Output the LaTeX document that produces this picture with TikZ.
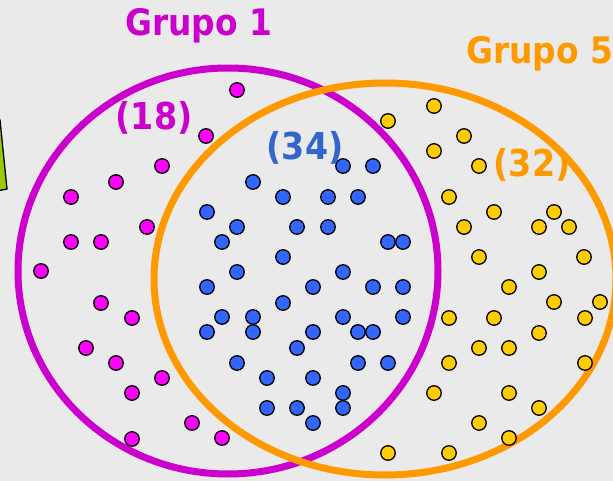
\documentclass[tikz,border=0pt]{standalone}
\usepackage{fontspec}
\newfontfamily\labfont[FakeStretch=0.9]{DejaVu Sans}
\definecolor{bgc}{RGB}{234,234,234}
\definecolor{magline}{RGB}{204,0,204}
\definecolor{orgline}{RGB}{255,153,0}
\definecolor{magdot}{RGB}{255,0,255}
\definecolor{bluedot}{RGB}{51,102,255}
\definecolor{yeldot}{RGB}{255,204,0}
\definecolor{bluetext}{RGB}{51,102,204}
\definecolor{greenfill}{RGB}{153,204,0}
\begin{document}
\begin{tikzpicture}[x=1pt,y=-1pt,
  dotbase/.style={circle, draw=black, line width=1.3pt, minimum size=14.5pt, inner sep=0pt},
  mdot/.style={dotbase, fill=magdot},
  bdot/.style={dotbase, fill=bluedot},
  ydot/.style={dotbase, fill=yeldot},
  lab/.style={font=\labfont\bfseries\fontsize{37}{40}\selectfont, inner sep=0pt, anchor=base},
  grp/.style={font=\labfont\bfseries\fontsize{36.5}{40}\selectfont, inner sep=0pt, anchor=base west}]
\useasboundingbox (0,0) rectangle (613,481);
\fill[bgc] (0,0) rectangle (613,481);
% green sliver at left edge
\filldraw[fill=greenfill, draw=black, line width=1.3pt] (-3,120) -- (0,120) -- (7,189) -- (-3,191) -- cycle;
% group outlines
\draw[magline, line width=7pt] (228,271) ellipse [x radius=210pt, y radius=203pt];
\draw[orgline, line width=7pt] (385,279) ellipse [x radius=231pt, y radius=196pt];
% magenta dots
\foreach \x/\y [count=\i] in {237/90, 206/136, 162/166, 116/182, 71/197, 147/227, 71/242, 101/242, 41/271, 101/303, 132/318, 86/348, 116/363, 162/378, 132/393, 192/423, 132/439, 222/438}
  \node[mdot] (m\i) at (\x,\y) {};
% blue dots
\foreach \x/\y [count=\i] in {343/166, 373/166, 253/182, 283/197, 328/197, 358/197, 207/212, 237/227, 297/227, 328/227, 222/242, 388/242, 403/242, 283/257, 237/272, 343/272, 207/287, 313/287, 373/287, 403/287, 283/303, 222/317, 253/317, 343/317, 403/317, 207/332, 253/332, 313/332, 358/332, 373/332, 297/348, 237/363, 358/363, 388/363, 267/378, 313/378, 343/393, 267/408, 297/408, 343/408, 313/423}
  \node[bdot] (b\i) at (\x,\y) {};
% yellow dots
\foreach \x/\y [count=\i] in {388/121, 434/106, 464/136, 434/151, 479/166, 449/197, 494/212, 554/212, 464/227, 539/227, 569/227, 479/257, 584/257, 539/272, 509/287, 554/302, 600/302, 449/318, 494/318, 585/318, 539/333, 479/348, 509/348, 449/363, 585/363, 434/393, 509/393, 539/408, 479/423, 509/438, 449/453, 388/453}
  \node[ydot] (y\i) at (\x,\y) {};
% labels
\node[lab, text=magline] (t18) at (154,130) {(18)};
\node[lab, text=bluetext] (t34) at (305,160) {(34)};
\node[lab, text=orgline] (t32) at (532,177) {(32)};
\node[grp, text=magline] (g1) at (125,36) {Grupo 1};
\node[grp, text=orgline] (g5) at (466,64) {Grupo 5};
\end{tikzpicture}
\end{document}
